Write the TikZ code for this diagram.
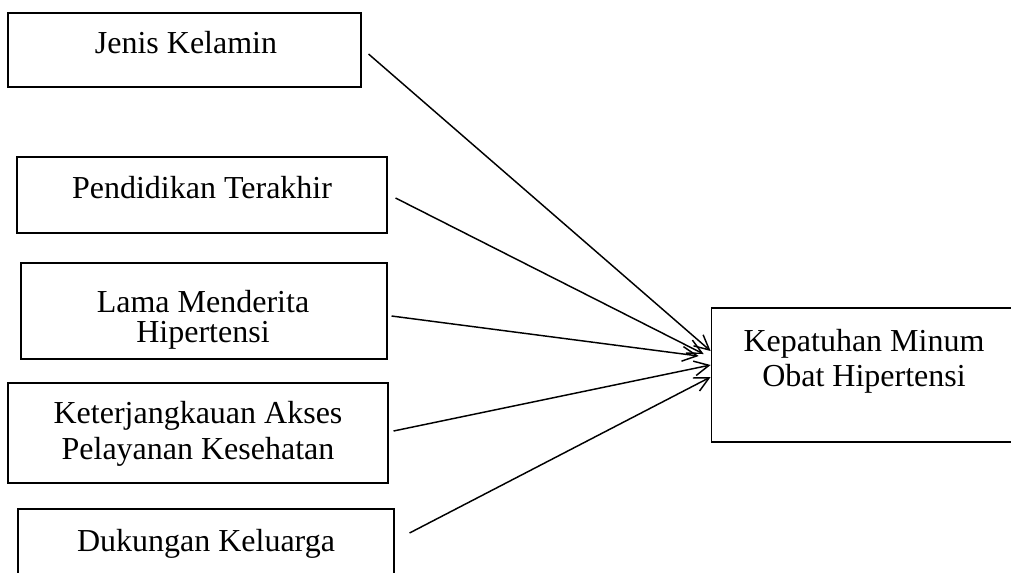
\documentclass[tikz,border=0pt]{standalone}
\usepackage{fontspec}
\setmainfont{Liberation Serif}
\usetikzlibrary{arrows.meta}
\tikzset{
  varbox/.style 2 args={draw, line width=0.8pt, minimum width=#1, minimum height=#2, inner sep=0pt},
  lbl/.style={font=\fontsize{24}{22.5}\selectfont, inner sep=0pt},
  arr/.style={line width=1.1pt, -{Straight Barb[length=11pt,width=11pt,line width=1.1pt]}}
}

\begin{document}
\begin{tikzpicture}[x=0.75pt,y=-0.75pt]
\useasboundingbox (0,0) rectangle (1011,572);
\clip (0,0) rectangle (1011,572);

%Independent variables
\node[varbox={264.75pt}{55.5pt}] (jk) at (184.5,50) {};
\node[lbl, anchor=base] (jktext) at (186,53) {Jenis Kelamin};

\node[varbox={277.5pt}{57pt}] (pt) at (202,195) {};
\node[lbl, anchor=base] (pttext) at (202,198) {Pendidikan Terakhir};

\node[varbox={274.5pt}{72pt}] (lm) at (204,311) {};
\node[lbl, align=center, anchor=base] (lmtext) at (203,342) {Lama Menderita\\Hipertensi};

\node[varbox={285pt}{75pt}] (ka) at (198,433) {};
\node[lbl, font=\fontsize{24}{27}\selectfont, align=center, anchor=base] (katext) at (198,459) {Keterjangkauan Akses\\Pelayanan Kesehatan};

\node[varbox={282pt}{55.5pt}] (dk) at (206,546) {};
\node[lbl, anchor=base] (dktext) at (206,551) {Dukungan Keluarga};

%Dependent variable
\node[varbox={230pt}{100.5pt}] (kmo) at (864.5,375) {};
\node[lbl, font=\fontsize{24}{26}\selectfont, align=center, anchor=base] (kmotext) at (864,386) {Kepatuhan Minum\\Obat Hipertensi};

%Arrows
\draw[arr] ([shift={(7,4)}]jk.east) -- ([shift={(0,-24)}]kmo.west);
\draw[arr] ([shift={(8,3)}]pt.east) -- ([shift={(-7,-21)}]kmo.west);
\draw[arr] ([shift={(4,5)}]lm.east) -- ([shift={(-12,-19)}]kmo.west);
\draw[arr] ([shift={(5,-2)}]ka.east) -- ([shift={(0,-10)}]kmo.west);
\draw[arr] ([shift={(15,-13)}]dk.east) -- ([shift={(0,2)}]kmo.west);

\end{tikzpicture}
\end{document}
